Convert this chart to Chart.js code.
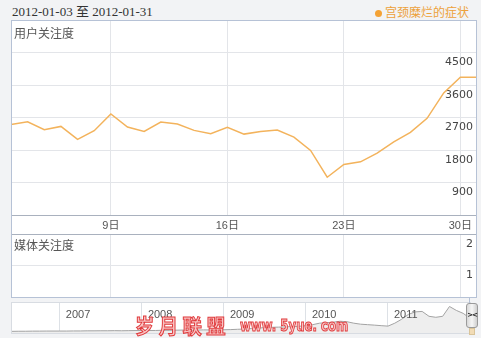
<!DOCTYPE html>
<html>
<head>
<meta charset="utf-8">
<script src="https://cdn.jsdelivr.net/npm/chart.js@4/dist/chart.umd.min.js"></script>
<style>
html, body { margin: 0; padding: 0; }
body { width: 481px; height: 338px; background: #f2f3f5; position: relative; overflow: hidden; font-family: "Noto Sans CJK SC", sans-serif; }
.abs { position: absolute; }
#range { left: 12px; top: 4px; font: 13px/16px "Liberation Serif", "Noto Sans CJK SC", serif; color: #333; white-space: nowrap; }
#legend { right: 12px; top: 4px; font-size: 12px; line-height: 16px; color: #eda13a; white-space: nowrap; }
#legend .dot { display: inline-block; width: 7px; height: 7px; border-radius: 50%; background: #f4a235; margin-right: 3px; vertical-align: 0px; }
#panel { left: 11px; top: 20px; width: 466px; height: 278px; box-sizing: border-box; border: 1px solid #b6c2d6; background: #fff; }
#frame { left: 11px; top: 20px; width: 466px; height: 278px; box-sizing: border-box; border: 1px solid #b6c2d6; pointer-events: none; z-index: 5; }
.title { left: 14px; font-size: 12px; line-height: 14px; color: #555; z-index: 6; }
#nav { left: 11px; top: 302px; width: 460px; height: 32px; box-sizing: border-box; border: 1px solid #d8dce2; background: #fff; }
#handle { left: 466px; top: 303px; width: 12px; height: 25px; box-sizing: border-box; border: 1px solid #9a9a9a; border-radius: 3px; background: linear-gradient(90deg, #d8d8d8, #f6f6f6 50%, #cfcfcf); font: bold 7px/23px "DejaVu Sans", sans-serif; color: #222; text-align: center; letter-spacing: -1px; z-index: 7; }
#handleFoot { left: 469px; top: 328px; width: 6px; height: 7px; background: #f2dcb6; border: 1px solid #d9c49a; box-sizing: border-box; z-index: 6; }
#link { left: 469px; top: 297px; width: 1px; height: 7px; background: #b6c2d6; z-index: 6; }
.wm { color: #f8c4c4; -webkit-text-stroke: 1px #e0393b; font-weight: bold; z-index: 8; white-space: nowrap; transform-origin: left top; }
#wm1 { left: 135px; top: 315px; font-size: 20px; line-height: 22px; }
#wm2 { left: 240px; top: 317px; font: bold 15px/18px "DejaVu Sans", sans-serif; }
canvas { display: block; }
</style>
</head>
<body>
<div id="range" class="abs">2012-01-03 至 2012-01-31</div>
<div id="legend" class="abs"><span class="dot"></span>宫颈糜烂的症状</div>
<div id="panel" class="abs"></div>
<div class="abs" style="left:11px;top:20px;"><canvas id="userChart" width="466" height="214"></canvas></div>
<div class="abs" style="left:11px;top:233px;"><canvas id="mediaChart" width="466" height="64"></canvas></div>
<div id="frame" class="abs"></div>
<div class="abs title" style="top:26px;">用户关注度</div>
<div class="abs title" style="top:238px;">媒体关注度</div>
<div id="link" class="abs"></div>
<div id="nav" class="abs"></div>
<div class="abs" style="left:12px;top:303px;"><canvas id="navChart" width="458" height="30"></canvas></div>
<div id="handle" class="abs">&gt;&lt;</div>
<div id="handleFoot" class="abs"></div>
<div id="wm1" class="abs wm" data-w="91">岁 月 联 盟</div>
<div id="wm2" class="abs wm" data-w="108">www. 5yue. com</div>
<script>
// days shown in the main chart (January 2012)
const days = [3, 4, 5, 6, 7, 8, 9, 10, 11, 12, 13, 14, 15, 16, 17, 18, 19, 20, 21, 22, 23, 24, 25, 26, 27, 28, 29, 30, 31];
const tickDays = [9, 16, 23, 30];
// 用户关注度
const userIndex = [2505, 2583, 2361, 2453, 2092, 2333, 2797, 2435, 2315, 2574, 2518, 2343, 2250, 2426, 2240, 2315, 2352, 2157, 1787, 1046, 1398, 1472, 1713, 2028, 2287, 2676, 3380, 3815, 3815];
const userTicks = [0, 900, 1800, 2700, 3600, 4500, 5400];
// 媒体关注度 (no data in this range)
const mediaIndex = [];
const mediaTicks = [0, 1, 2];
// overview strip, monthly from 2006-06 to 2012-01
const navYears = [2007, 2008, 2009, 2010, 2011];
const navIndex = [
  280, 300, 300, 320, 320, 330, 330,
  330, 330, 350, 350, 370, 370, 380, 380, 400, 380, 400, 420,
  420, 430, 430, 470, 450, 480, 500, 470, 500, 530, 520, 550,
  550, 580, 630, 670, 750, 830, 920, 970, 1000, 1040, 1090, 1140,
  1250, 1420, 1670, 1750, 1840, 2000, 1920, 1670, 1500, 1420, 1340, 1250,
  1170, 1670, 2340, 3170, 3590, 3670, 2840, 2670, 2840, 4510, 3840, 3340,
  2500
];

const navMonths = [];
for (let y = 2006, m = 6; navMonths.length < navIndex.length; m++) {
  if (m > 12) { m = 1; y++; }
  navMonths.push(y + '-' + String(m).padStart(2, '0'));
}

// stretch the watermark text to the width it has in the picture
document.querySelectorAll('.wm').forEach(el => {
  el.style.transform = 'scaleX(' + (el.dataset.w / el.offsetWidth) + ')';
});

const axisLine = '#a9b1be';
const gridLine = '#e3e5e9';
const labelFont = { family: '"Liberation Sans", "Noto Sans CJK SC", sans-serif', size: 11 };
const numFont = { family: '"DejaVu Sans", sans-serif', size: 11 };

function dayGrid(c) {
  return tickDays.includes(days[c.index]) ? gridLine : 'rgba(0,0,0,0)';
}

// keep the plot filling the canvas: no room reserved for axis labels
function flatY(s) {
  s.width = 0;
  s.paddingTop = 0;
  s.paddingBottom = 0;
}
function flatX(h) {
  return s => {
    s.height = h;
    s.paddingLeft = 0;
    s.paddingRight = 0;
  };
}

new Chart(document.getElementById('userChart'), {
  type: 'line',
  data: {
    labels: days,
    datasets: [{
      label: '宫颈糜烂的症状',
      data: userIndex,
      borderColor: '#f3b35c',
      borderWidth: 1.5,
      pointRadius: 0,
      tension: 0,
      fill: false
    }]
  },
  options: {
    responsive: false,
    animation: false,
    layout: { padding: 0 },
    plugins: { legend: { display: false }, tooltip: { enabled: false } },
    scales: {
      x: {
        offset: false,
        afterFit: flatX(19),
        border: { display: false },
        grid: { color: dayGrid, drawTicks: false },
        ticks: {
          autoSkip: false,
          maxRotation: 0,
          padding: 4,
          color: '#555',
          font: labelFont,
          callback: (v, i) => tickDays.includes(days[i]) ? days[i] + '日' : ''
        }
      },
      y: {
        position: 'right',
        min: 0,
        max: 5400,
        afterFit: flatY,
        afterBuildTicks: s => { s.ticks = userTicks.map(v => ({ value: v })); },
        border: { display: false },
        grid: {
          drawTicks: false,
          color: c => c.tick && c.tick.value === 0 ? axisLine : gridLine
        },
        ticks: {
          mirror: true,
          padding: -4,
          labelOffset: 10,
          color: '#444',
          font: numFont,
          callback: v => (v === 0 || v === 5400) ? '' : v
        }
      }
    }
  }
});

new Chart(document.getElementById('mediaChart'), {
  type: 'line',
  data: {
    labels: days,
    datasets: [{ label: '媒体关注度', data: mediaIndex, borderColor: '#f3b35c', pointRadius: 0 }]
  },
  options: {
    responsive: false,
    animation: false,
    layout: { padding: { top: 1 } },
    plugins: { legend: { display: false }, tooltip: { enabled: false } },
    scales: {
      x: {
        offset: false,
        afterFit: flatX(0),
        border: { display: false },
        grid: { color: dayGrid, drawTicks: false },
        ticks: { display: false, autoSkip: false }
      },
      y: {
        position: 'right',
        min: 0,
        max: 2,
        afterFit: flatY,
        afterBuildTicks: s => { s.ticks = mediaTicks.map(v => ({ value: v })); },
        border: { display: false },
        grid: {
          drawTicks: false,
          color: c => !c.tick ? gridLine : c.tick.value === 2 ? axisLine : c.tick.value === 0 ? 'rgba(0,0,0,0)' : gridLine
        },
        ticks: {
          mirror: true,
          padding: -4,
          labelOffset: 10,
          color: '#444',
          font: numFont,
          callback: v => v === 0 ? '' : v
        }
      }
    }
  }
});

// year captions sit just right of each year line in the overview strip
const yearLabels = {
  id: 'yearLabels',
  afterDraw(chart) {
    const { ctx, chartArea } = chart;
    const x = chart.scales.x;
    ctx.save();
    ctx.font = '11px "Liberation Sans", sans-serif';
    ctx.fillStyle = '#555';
    ctx.textBaseline = 'middle';
    navYears.forEach(y => {
      const px = x.getPixelForValue(navMonths.indexOf(y + '-01'));
      ctx.fillText(String(y), px + 6, chartArea.top + 12);
    });
    ctx.restore();
  }
};

new Chart(document.getElementById('navChart'), {
  type: 'line',
  data: {
    labels: navMonths,
    datasets: [{
      data: navIndex,
      borderColor: '#a3a3a3',
      borderWidth: 1,
      backgroundColor: '#eeeeee',
      fill: 'origin',
      pointRadius: 0,
      tension: 0
    }]
  },
  options: {
    responsive: false,
    animation: false,
    layout: { padding: 0 },
    plugins: { legend: { display: false }, tooltip: { enabled: false } },
    scales: {
      x: {
        offset: false,
        afterFit: flatX(0),
        border: { display: false },
        grid: {
          drawTicks: false,
          color: c => /-01$/.test(navMonths[c.index]) ? '#dde1e6' : 'rgba(0,0,0,0)'
        },
        ticks: { display: false, autoSkip: false }
      },
      y: {
        display: false,
        min: 0,
        max: 5100
      }
    }
  },
  plugins: [yearLabels]
});
</script>
</body>
</html>
